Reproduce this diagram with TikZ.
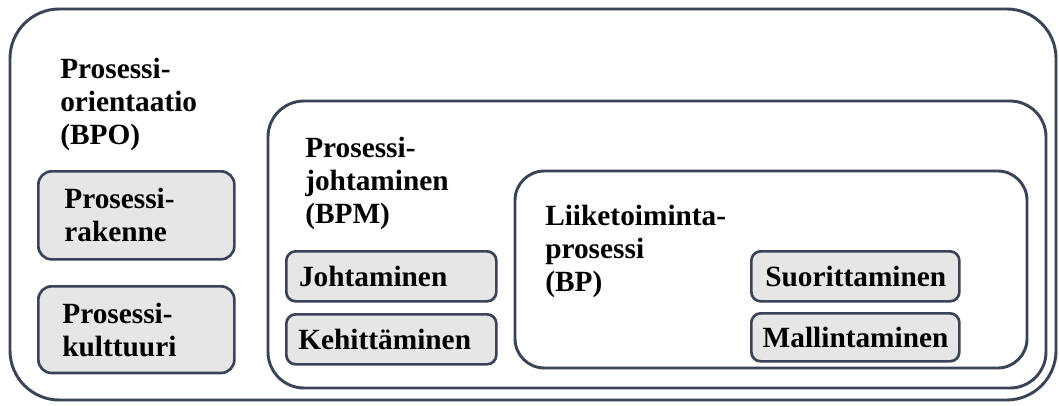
\documentclass[tikz,border=0pt]{standalone}
\usepackage{fontspec}
\setmainfont{LiberationSerif}[Extension=.ttf, UprightFont=*-Regular, BoldFont=*-Bold]
\hyphenpenalty=10000
\definecolor{edgeslate}{RGB}{58,68,86}
\definecolor{partgray}{RGB}{230,230,230}
\tikzset{
    frame/.style={draw=edgeslate, line width=2.2pt, rounded corners=#1},
    heading/.style={anchor=north west, inner sep=0pt, align=left,
        font=\bfseries\fontsize{22}{24.75}\selectfont},
    part/.style={draw=edgeslate, fill=partgray, line width=2pt, rounded corners=7pt,
        anchor=north west, align=left, inner ysep=0pt,
        font=\bfseries\fontsize{22}{24.75}\selectfont},
}

\begin{document}
\begin{tikzpicture}[x=0.75pt, y=-0.75pt]
    \useasboundingbox (0,0) rectangle (1059,406);

    \draw[frame=37pt] (10,9) rectangle (1056,400);
    \draw[frame=27pt] (268,101) rectangle (1046,388);
    \draw[frame=22pt] (515,171) rectangle (1027,368);

    \node[heading] (bpo) at (60,58) {Prosessi-\\orientaatio\\(BPO)};
    \node[part, rounded corners=10pt, inner xsep=19.5pt, text width=108pt, minimum height=66pt]
        (rakenne) at (37,170) {Prosessi-\\rakenne};
    \node[part, rounded corners=10pt, inner xsep=18pt, text width=111pt, minimum height=65pt]
        (kulttuuri) at (37,285) {Prosessi-\\kulttuuri};

    \node[heading] (bpm) at (305,137) {Prosessi-\\johtaminen\\(BPM)};
    \node[part, inner xsep=9.5pt, text width=138.5pt, minimum height=37.5pt]
        (johtaminen) at (285,250) {Johtaminen};
    \node[part, inner xsep=9pt, text width=139.5pt, minimum height=37.5pt]
        (kehittaminen) at (285,313) {Kehittäminen};

    \node[heading] (bp) at (545,205) {Liiketoiminta-\\prosessi\\(BP)};
    \node[part, inner xsep=10.5pt, text width=135pt, minimum height=37.5pt]
        (suorittaminen) at (750,250) {Suorittaminen};
    \node[part, inner xsep=8.5pt, text width=139pt, minimum height=36pt]
        (mallintaminen) at (750,312) {Mallintaminen};
\end{tikzpicture}
\end{document}
